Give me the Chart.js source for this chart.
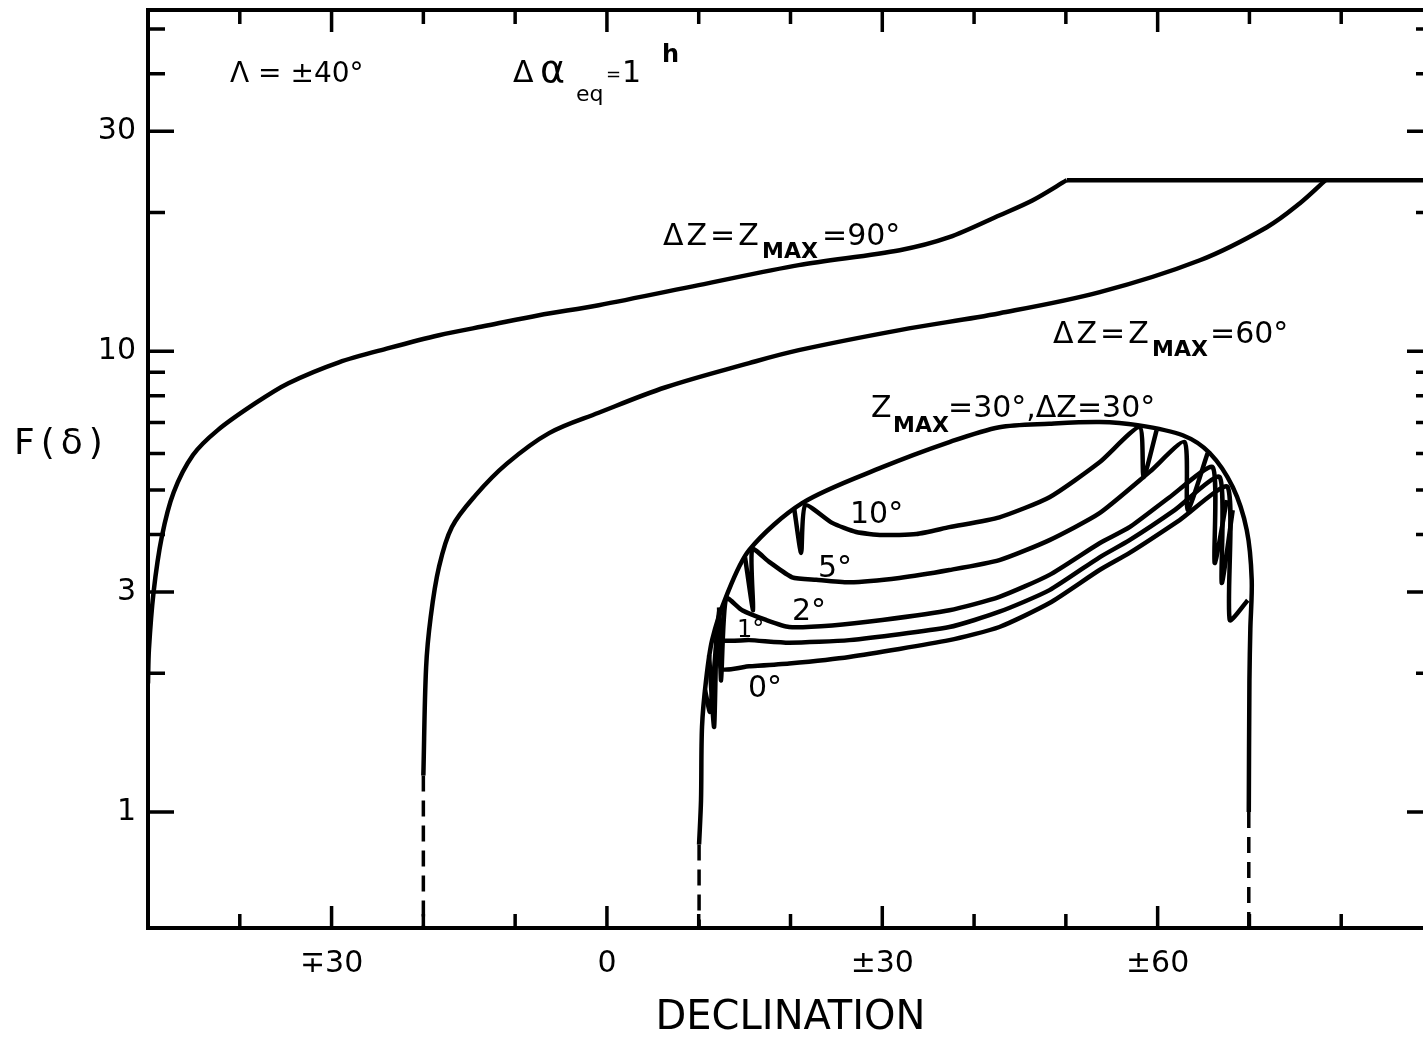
<!DOCTYPE html>
<html>
<head>
<meta charset="utf-8">
<title>F(δ) against declination</title>
<script src="https://cdn.jsdelivr.net/npm/chart.js@4/dist/chart.umd.min.js"></script>
<style>
  html, body { margin: 0; padding: 0; background: #fff; overflow: hidden; }
  #wrap { width: 1450px; height: 1039px; }
</style>
</head>
<body>
<div id="wrap"><canvas id="chart" width="1450" height="1039"></canvas></div>
<script>
// ΔZ = Zmax = 90°
const declZ90 = [-50, -49.9, -49.4, -48.5, -47.2, -45.1, -42.4, -38.3, -34.7, -29.2, -23.8, -18.3, -12.9, -7.4, -0.9, 10.0, 20.9, 31.9, 37.3, 42.8, 46.4, 50.1];
const fZ90 = [1.9, 2.25, 2.99, 3.95, 4.94, 5.95, 6.74, 7.71, 8.52, 9.46, 10.15, 10.83, 11.38, 11.97, 12.58, 13.91, 15.37, 16.56, 17.67, 19.72, 21.26, 23.5];

// flat top shared by the 90° and 60° curves
const declCap = [50.1, 90];
const fCap = [23.5, 23.5];

// ΔZ = Zmax = 60°
const declZ60 = [-20, -19.7, -19.2, -18.3, -16.9, -14.3, -10.9, -6.3, -0.9, 6.4, 15.5, 20.9, 31.9, 42.8, 53.7, 64.6, 71.9, 75.5, 78.3];
const fZ60 = [1.2, 2.06, 2.65, 3.40, 4.15, 4.87, 5.70, 6.64, 7.35, 8.35, 9.42, 10.05, 11.11, 12.09, 13.43, 15.75, 18.58, 20.94, 23.5];

// Zmax = 30°, ΔZ = 30° (outer envelope)
const declZ30 = [10.04, 10.25, 10.36, 10.8, 11.46, 12.98, 15.49, 21.27, 30.0, 37.31, 42.76, 48.2, 53.67, 57.82, 62.73, 65.67, 68.18, 69.71, 70.25, 70.1, 70.0, 69.93];
const fZ30 = [0.85, 1.06, 1.53, 1.93, 2.36, 2.93, 3.70, 4.68, 5.60, 6.35, 6.84, 6.96, 7.02, 6.91, 6.57, 6.01, 5.07, 4.09, 3.19, 2.5, 1.93, 1.0];

// Zmax = 30° with smaller ΔZ
const declDz10 = [20.40, 21.16, 21.60, 24.54, 27.16, 30.00, 33.71, 37.31, 42.76, 48.22, 53.67, 58.04, 58.47, 59.89];
const fDz10 = [4.56, 3.65, 4.63, 4.24, 4.05, 3.99, 4.01, 4.15, 4.36, 4.82, 5.74, 6.84, 5.33, 6.74];

const declDz5 = [15.05, 15.93, 15.82, 17.67, 20.18, 22.80, 26.40, 31.86, 37.31, 42.76, 48.22, 53.67, 59.13, 62.94, 63.27, 65.45];
const fDz5 = [3.57, 2.74, 3.72, 3.49, 3.23, 3.19, 3.15, 3.22, 3.35, 3.52, 3.89, 4.45, 5.47, 6.35, 4.52, 6.01];

const declDz2 = [12.22, 12.44, 12.98, 14.73, 17.34, 19.85, 24.54, 30.00, 37.31, 42.76, 48.22, 53.67, 56.94, 61.3, 66.00, 66.21, 67.53];
const fDz2 = [2.78, 1.93, 2.91, 2.74, 2.61, 2.52, 2.54, 2.61, 2.74, 2.93, 3.27, 3.83, 4.15, 4.82, 5.60, 3.47, 4.75];

const declDz1 = [11.13, 11.68, 12.00, 12.54, 15.49, 19.85, 26.40, 37.31, 42.76, 48.22, 53.67, 56.94, 61.85, 66.76, 66.98, 68.18];
const fDz1 = [2.19, 1.53, 2.54, 2.36, 2.36, 2.33, 2.36, 2.52, 2.72, 3.03, 3.57, 3.89, 4.52, 5.33, 3.14, 4.52];

const declDz0 = [10.69, 11.24, 12.22, 12.44, 15.49, 19.85, 26.40, 37.31, 42.76, 48.22, 53.67, 56.94, 62.40, 67.63, 67.85, 69.82];
const fDz0 = [1.84, 1.65, 2.72, 2.05, 2.07, 2.10, 2.17, 2.36, 2.52, 2.84, 3.35, 3.65, 4.30, 5.07, 2.61, 2.88];

// dashed drops to zero below the solid curves
const declDrops = [-20, 10.04, 69.93];
const fDropTop = [1.2, 0.85, 1.0];
const fDropEnd = 0.4;

// axes
const yTicks = [1, 2, 3, 4, 5, 6, 7, 8, 9, 10, 20, 30, 40, 50];
const yLabels = { 1: '1', 3: '3', 10: '10', 30: '30' };
const xLabels = { '-30': '∓30', 0: '0', 30: '±30', 60: '±60' };

const FONT = 'DejaVu Sans';

function points(xs, ys) {
    return xs.map((x, i) => ({ x: x, y: ys[i] }));
}

function curve(xs, ys, tension) {
    return { data: points(xs, ys), tension: tension, borderColor: '#000', borderWidth: 4.5, pointRadius: 0, fill: false };
}

const datasets = [
    curve(declZ90, fZ90, 0.3),
    curve(declCap, fCap, 0),
    curve(declZ60, fZ60, 0.35),
    curve(declZ30, fZ30, 0.3),
    curve(declDz10, fDz10, 0.2),
    curve(declDz5, fDz5, 0.2),
    curve(declDz2, fDz2, 0.2),
    curve(declDz1, fDz1, 0.2),
    curve(declDz0, fDz0, 0.2)
];

declDrops.forEach((d, i) => {
    datasets.push({
        data: [{ x: d, y: fDropTop[i] }, { x: d, y: fDropEnd }],
        borderColor: '#000', borderWidth: 3.5, borderDash: [16, 9], pointRadius: 0, tension: 0
    });
});

// frame with inward ticks on all sides, plus the lettering inside the plot
const framePlugin = {
    id: 'frame',
    afterDraw(chart) {
        const { ctx, chartArea: a, scales: { x, y } } = chart;
        ctx.save();
        ctx.strokeStyle = '#000';
        ctx.lineWidth = 4;
        ctx.strokeRect(a.left, a.top, a.right - a.left, a.bottom - a.top);

        ctx.lineWidth = 3.5;
        ctx.beginPath();
        y.ticks.forEach(t => {
            const py = y.getPixelForValue(t.value);
            const len = yLabels[t.value] ? 26 : 17;
            ctx.moveTo(a.left, py);
            ctx.lineTo(a.left + len, py);
            ctx.moveTo(a.right, py);
            ctx.lineTo(a.right - len, py);
        });
        x.ticks.forEach(t => {
            const v = Math.round(t.value);
            if (v <= x.min || v >= x.max) return;
            const px = x.getPixelForValue(v);
            const len = xLabels[v] ? 22 : 14;
            ctx.moveTo(px, a.bottom);
            ctx.lineTo(px, a.bottom - len);
            ctx.moveTo(px, a.top);
            ctx.lineTo(px, a.top + len);
        });
        ctx.stroke();

        ctx.fillStyle = '#000';
        ctx.textBaseline = 'alphabetic';
        ctx.textAlign = 'left';
        const say = (text, px, py, size, weight, spacing) => {
            ctx.font = (weight || 'normal') + ' ' + size + 'px "' + FONT + '"';
            ctx.letterSpacing = (spacing || 0) + 'px';
            ctx.fillText(text, px, py);
            ctx.letterSpacing = '0px';
        };

        // y axis name, written upright
        say('F(δ)', 14, 454, 36, 'normal', 6);

        say('Λ = ±40°', 230, 82, 28);
        say('Δ', 513, 82, 30);
        say('α', 540, 82, 38);
        say('eq', 576, 101, 22);
        say('=', 606, 80, 18);
        say('1', 622, 82, 30);
        say('h', 662, 62, 24, 'bold');

        say('ΔZ=Z', 663, 245, 30, 'normal', 3);
        say('MAX', 762, 258, 22, 'bold');
        say('=90°', 822, 245, 30);

        say('ΔZ=Z', 1053, 343, 30, 'normal', 3);
        say('MAX', 1152, 356, 22, 'bold');
        say('=60°', 1210, 343, 30);

        say('Z', 871, 417, 30);
        say('MAX', 893, 432, 22, 'bold');
        say('=30°,ΔZ=30°', 948, 417, 30);

        say('10°', 850, 523, 30);
        say('5°', 818, 577, 30);
        say('2°', 792, 620, 30);
        say('1°', 737, 637, 24);
        say('0°', 748, 697, 30);
        ctx.restore();
    }
};

new Chart(document.getElementById('chart'), {
    type: 'line',
    data: { datasets },
    options: {
        responsive: false,
        animation: false,
        layout: { padding: { top: 10, right: 17, left: 0, bottom: 0 } },
        plugins: { legend: { display: false }, tooltip: { enabled: false } },
        scales: {
            x: {
                type: 'linear',
                min: -50,
                max: 90,
                grid: { display: false, drawTicks: false },
                border: { display: false },
                ticks: {
                    stepSize: 10,
                    autoSkip: false,
                    maxRotation: 0,
                    padding: 18,
                    color: '#000',
                    font: { family: FONT, size: 30 },
                    callback: v => xLabels[Math.round(v)] || ''
                },
                title: {
                    display: true,
                    text: 'DECLINATION',
                    color: '#000',
                    font: { family: FONT, size: 40, lineHeight: 1 },
                    padding: { top: 0, bottom: 0 }
                },
                afterFit: s => {
                    s.height = 111;
                    s.paddingLeft = 0;
                    s.paddingRight = 0;
                }
            },
            y: {
                type: 'logarithmic',
                min: 0.56,
                max: 55,
                grid: { display: false, drawTicks: false },
                border: { display: false },
                afterBuildTicks: s => { s.ticks = yTicks.map(v => ({ value: v })); },
                ticks: {
                    autoSkip: false,
                    padding: 12,
                    color: '#000',
                    font: { family: FONT, size: 30 },
                    callback: v => yLabels[v] || ''
                },
                afterFit: s => {
                    s.width = 148;
                    s.paddingTop = 0;
                    s.paddingBottom = 0;
                }
            }
        }
    },
    plugins: [framePlugin]
});
</script>
</body>
</html>
